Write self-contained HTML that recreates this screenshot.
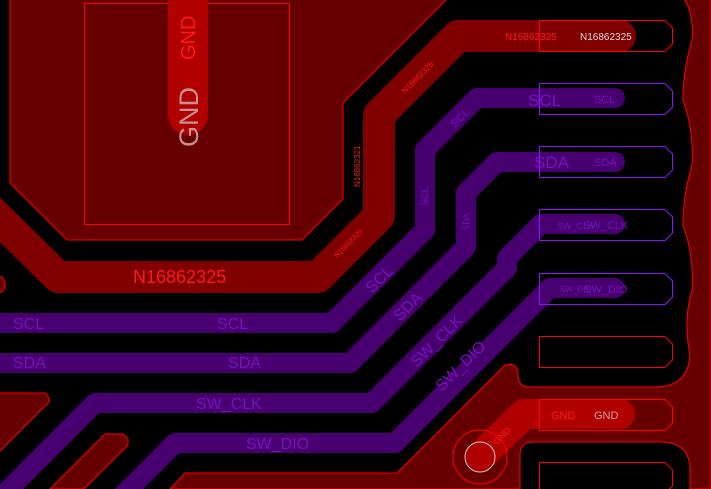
<!DOCTYPE html>
<html><head><meta charset="utf-8"><style>
html,body{margin:0;padding:0;background:#000;overflow:hidden}
svg{display:block}
text{font-family:"Liberation Sans",sans-serif}
</style></head><body>
<svg width="711" height="489" viewBox="0 0 711 489" xmlns="http://www.w3.org/2000/svg">
<rect width="711" height="489" fill="#000"/>
<!-- top-left plane -->
<path d="M10,-2 L10,183 L67,240 L302,240 L343,199 L343,103 L448,-2 Z" fill="#660000" stroke="#ff0000" stroke-width="1"/>
<rect x="84.5" y="3.5" width="205" height="221" fill="none" stroke="#ff0000" stroke-width="1"/>
<!-- GND vertical trace -->
<path d="M168,0 L168,115 A20,20 0 0 0 208,115 L208,0 Z" fill="#b00000"/>
<text transform="translate(195,60) rotate(-90)" font-size="20" fill="#ff1a1a">GND</text>
<text transform="translate(198,147) rotate(-90)" font-size="27" fill="#c89090">GND</text>
<!-- right plane and bottom plane -->
<path d="M683,-2 Q694,12 692,40 Q683,70 683,100 Q694,130 692,165 Q683,195 683,225 Q694,255 692,290 Q683,320 690,355 Q688,387 655,387 L530,387 Q518,387 518,375 L518,372 Q516,362 505,365 L397,473 L185,473 L170,489 L520,489 L520,455 Q520,442 533,442 L660,442 Q690,442 690,470 L690,489 L711,489 L711,-2 Z" fill="#660000" stroke="#ff0000" stroke-width="1"/>
<!-- left bottom shapes -->
<path d="M-2,393 L45,393 L49,398 L49,402 L-2,453 Z" fill="#660000" stroke="#ff0000"/>
<path d="M50,489 L105,434 L123,434 L128,439 L128,445 L84,489 Z" fill="#660000" stroke="#ff0000"/>
<path d="M-2,277 L2,277 L5,282 L5,288 L2,292 L-2,292 Z" fill="#660000" stroke="#ff0000"/>
<!-- N16862325 trace -->
<path d="M-20,200 L58,277 L318,277 L379,216 L379,115 L458,36 L620,36" fill="none" stroke="#800000" stroke-width="32" stroke-linejoin="round"/>
<path d="M604,20 L620,20 A16,16 0 0 1 620,52 L604,52 Z" fill="#800000"/>
<text x="133" y="283" font-size="18" fill="#ff1a1a">N16862325</text>
<text transform="translate(360,187) rotate(-90)" font-size="8" fill="#ff1a1a">N16862321</text>
<text transform="translate(405,94) rotate(-45)" font-size="8" fill="#ff1a1a">N16862325</text>
<text transform="translate(337,258) rotate(-45)" font-size="7" fill="#ff1a1a">N16862325</text>
<!-- purple traces -->
<g fill="none" stroke="#480070" stroke-width="20" stroke-linejoin="round">
<path d="M-5,323 L332,323 L425,230 L425,150 L477,98 L615,98"/>
<path d="M-5,363 L350,363 L466,247 L466,193 L497,162 L615,162"/>
<path d="M-10,508 L95,403 L372,403 L507,268 L507,258 L541,224 L615,224"/>
<path d="M110,508 L175,443 L395,443 L550,288 L615,288"/>
</g>
<g fill="#480070">
<circle cx="615" cy="98" r="10"/><circle cx="615" cy="162" r="10"/><circle cx="615" cy="224" r="10"/><circle cx="615" cy="288" r="10"/>
</g>
<g fill="#7a10c0">
<text x="13" y="329" font-size="16">SCL</text>
<text x="217" y="329" font-size="16">SCL</text>
<text x="13" y="368" font-size="16">SDA</text>
<text x="228" y="368" font-size="16">SDA</text>
<text x="196" y="409" font-size="16">SW_CLK</text>
<text x="246" y="449" font-size="16">SW_DIO</text>
<text transform="translate(372,294) rotate(-45)" font-size="16">SCL</text>
<text transform="translate(400,322) rotate(-45)" font-size="16">SDA</text>
<text transform="translate(417,368) rotate(-45)" font-size="16">SW_CLK</text>
<text transform="translate(442,392) rotate(-45)" font-size="16">SW_DIO</text>
<text transform="translate(428,205) rotate(-90)" font-size="9">SCL</text>
<text transform="translate(469,230) rotate(-90)" font-size="8">SDA</text>
<text transform="translate(455,128) rotate(-45)" font-size="11">SCL</text>
<text x="528" y="106" font-size="17">SCL</text>
<text x="594" y="103" font-size="11">SCL</text>
<text x="534" y="168" font-size="17">SDA</text>
<text x="594" y="166" font-size="11">SDA</text>
<text x="557" y="229" font-size="9">SW_CLK</text>
<text x="583" y="229" font-size="11">SW_CLK</text>
<text x="560" y="292" font-size="8">SW_DIO</text>
<text x="584" y="293" font-size="11">SW_DIO</text>
</g>
<!-- GND pad trace -->
<path d="M480,457 L524,414 L620,414" fill="none" stroke="#b00000" stroke-width="30" stroke-linejoin="round"/>
<circle cx="620" cy="414" r="15" fill="#b00000"/>
<circle cx="480" cy="457" r="27" fill="none" stroke="#ff0000" stroke-width="1"/>
<circle cx="480" cy="457" r="15" fill="#b00000" stroke="#c8c8c8" stroke-width="1"/>
<text transform="translate(497,445) rotate(-45)" font-size="9" fill="#ff1a1a">GND</text>
<text x="551" y="419" font-size="11" fill="#ff1a1a">GND</text>
<text x="594" y="419" font-size="11" fill="#d0a0a0">GND</text>
<!-- pads -->
<g fill="none" stroke-width="1">
<path d="M539.5,20.5 L665,20.5 L672.5,28 L672.5,44 L665,51.5 L539.5,51.5 Z" stroke="#ff0000"/>
<path d="M539.5,83.5 L665,83.5 L672.5,91 L672.5,107 L665,114.5 L539.5,114.5 Z" stroke="#9010ff"/>
<path d="M539.5,146.5 L665,146.5 L672.5,154 L672.5,170 L665,177.5 L539.5,177.5 Z" stroke="#9010ff"/>
<path d="M539.5,209.5 L665,209.5 L672.5,217 L672.5,233 L665,240.5 L539.5,240.5 Z" stroke="#9010ff"/>
<path d="M539.5,273.5 L665,273.5 L672.5,281 L672.5,297 L665,304.5 L539.5,304.5 Z" stroke="#9010ff"/>
<path d="M539.5,336.5 L665,336.5 L672.5,344 L672.5,360 L665,367.5 L539.5,367.5 Z" stroke="#ff0000"/>
<path d="M539.5,399.5 L665,399.5 L672.5,407 L672.5,423 L665,430.5 L539.5,430.5 Z" stroke="#ff0000"/>
<path d="M539.5,462.5 L665,462.5 L672.5,470 L672.5,486 L665,493.5 L539.5,493.5 Z" stroke="#ff0000"/>
</g>
<text x="505" y="40" font-size="10" fill="#ff1a1a">N16862325</text>
<text x="580" y="40" font-size="10" fill="#d8d8d8">N16862325</text>
</svg>
</body></html>
